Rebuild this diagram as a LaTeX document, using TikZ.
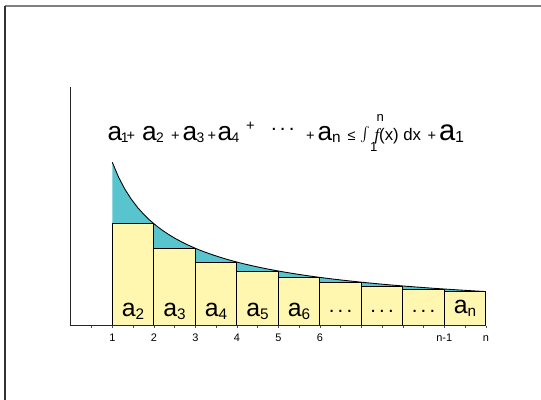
\documentclass[tikz,border=0pt]{standalone}
\usepackage{fontspec}
\setmainfont{Liberation Sans}
\newfontfamily\serifit{Liberation Serif}
\usetikzlibrary{positioning}
\definecolor{barcol}{RGB}{255,246,176}
\definecolor{gapcol}{RGB}{88,196,206}
\definecolor{framegray}{RGB}{128,128,128}
\newlength{\pxu}
\setlength{\pxu}{0.6856pt}
\newcommand{\putat}[2]{\rlap{\hspace{#1\pxu}#2}}
\newcommand{\bigterm}[2][-0.3pt]{{\fontsize{18}{20}\selectfont a}\hspace{#1}\raisebox{-1.5pt}{\fontsize{9.5}{10}\selectfont #2}}
\newcommand{\smallplus}{{\fontsize{10}{10}\selectfont +}}
\newcommand{\barterm}[1]{a\raisebox{-1.8pt}{\fontsize{10.5}{11}\selectfont #1}}
\newcommand{\rowdots}{{\fontsize{14}{14}\selectfont .\hspace{2.2pt}.\hspace{2.2pt}.}}

\begin{document}
\begin{tikzpicture}[
    declare function={f(\x)=3.937*\x^(-0.68);},
    barbox/.style={draw=black, line width=0.6pt, fill=barcol},
    barlabel/.style={anchor=base, inner sep=0pt, font=\fontsize{17}{18}\selectfont},
    ticklabel/.style={font=\fontsize{7.5}{8}\selectfont, inner sep=0pt},
    axisline/.style={line width=0.7pt, draw=black!85}
    ]
    \useasboundingbox (-1.706,-1.790) rectangle (11.330,7.848);

    % page frame
    \draw[framegray, line width=1.2pt] (-1.586,7.704) -- (11.33,7.704);
    \draw[black!80, line width=1pt] (-1.586,7.704) -- (-1.586,-1.79);

    % area under f, then the bars on top of it
    \fill[gapcol] (1,0) -- plot[domain=1:10, samples=60] (\x,{f(\x)}) -- (10,0) -- cycle;
    \foreach \k in {1,...,9}
        \draw[barbox] (\k,0) rectangle ({\k+1},{f(\k+1)});
    \draw[line width=0.6pt] plot[domain=1:10, samples=60] (\x,{f(\x)});

    \draw[axisline] (0,5.75) -- (0,0) -- (10,0);
    \foreach \x in {0.5,1,...,10}
        \draw[black!70, line width=0.4pt] (\x,0) -- (\x,-0.05);

    \foreach \k/\t in {1/2,2/3,3/4,4/5,5/6}
        \node[barlabel] (term\t) at ({\k+0.5},0.217) {\barterm{\t}};
    \foreach \k in {6,7,8}
        \node[barlabel] (dots\k) at ({\k+0.5},0.33) {\rowdots};
    \node[barlabel] (termn) at (9.5,0.29) {\barterm{n}};

    \foreach \x in {1,...,6}
        \node[ticklabel] (tick\x) at (\x,-0.3) {\x};
    \node[ticklabel] (tickm) at (9,-0.3) {n-1};
    \node[ticklabel] (tickn) at (10,-0.3) {n};

    % the inequality, pieces placed along one line
    \node[anchor=base west, inner sep=0pt] (sumineq) at (0.860,4.463) {%
        \putat{0}{\bigterm[-0.8pt]{1}}%
        \putat{19}{\smallplus}%
        \putat{34.5}{\bigterm{2}}%
        \putat{63.5}{\smallplus}%
        \putat{75}{\bigterm{3}}%
        \putat{100}{\smallplus}%
        \putat{110}{\bigterm{4}}%
        \putat{138.5}{\raisebox{7pt}{\smallplus}}%
        \putat{163.5}{\raisebox{6.8pt}{\rowdots}}%
        \putat{198.5}{\smallplus}%
        \putat{210}{{\fontsize{18}{20}\selectfont a}\raisebox{-1.5pt}{\fontsize{10.5}{11}\selectfont n}}%
        \putat{240}{{\fontsize{10}{10}\selectfont ≤}}%
        \putat{253}{{\fontsize{18.5}{19}\selectfont$\int$}}%
        \putat{269}{\raisebox{13pt}{\fontsize{9}{9}\selectfont n}}%
        \putat{262.5}{\raisebox{-7.7pt}{\fontsize{9}{9}\selectfont 1}}%
        \putat{267}{{\fontsize{11.5}{12}\selectfont{\serifit\itshape f}(x) dx}}%
        \putat{320}{\smallplus}%
        \putat{331.5}{{\fontsize{20}{21}\selectfont a}\raisebox{-1.5pt}{\fontsize{11}{11}\selectfont 1}}%
        \hspace{358\pxu}};
\end{tikzpicture}
\end{document}
